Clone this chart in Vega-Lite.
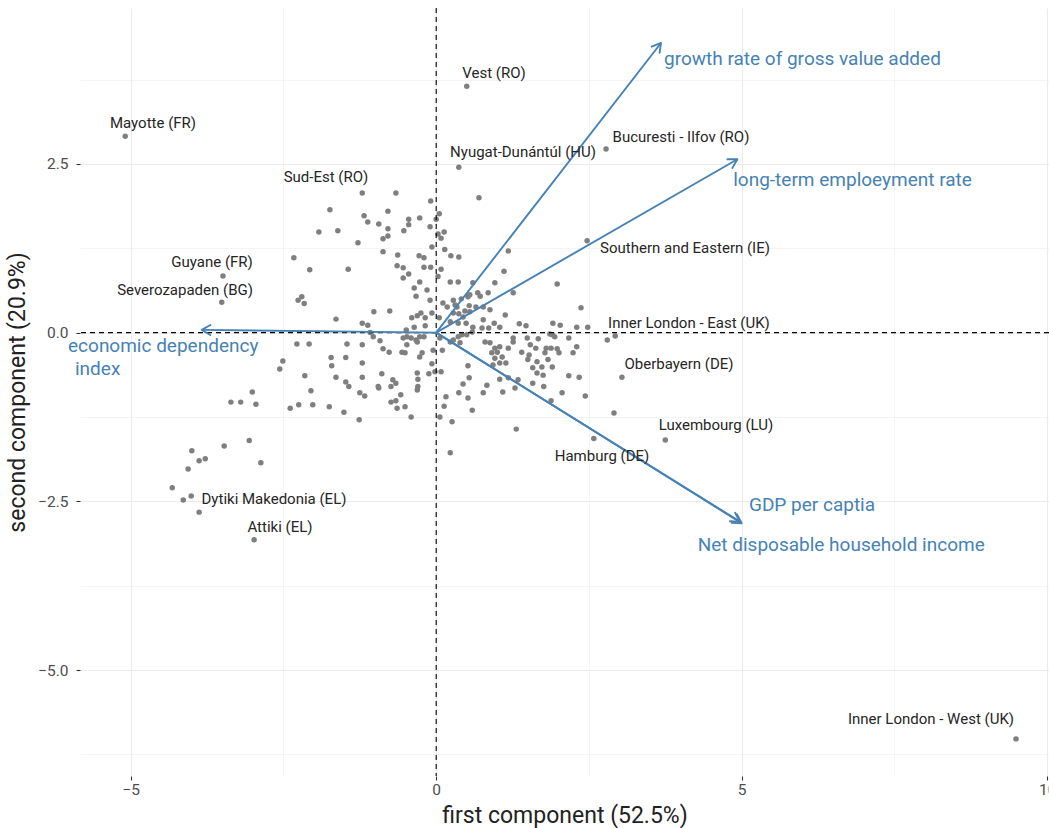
{
  "$schema": "https://vega.github.io/schema/vega-lite/v6.json",
  "width": 969,
  "height": 768,
  "autosize": {"type": "none"},
  "padding": {"left": 80, "top": 8, "right": 0, "bottom": 52},
  "background": "white",
  "config": {
    "view": {"stroke": null},
    "font": "Roboto",
    "axis": {
      "labelFont": "Roboto",
      "labelFontSize": 15.5,
      "labelColor": "#4D4D4D",
      "titleFont": "Roboto",
      "titleFontSize": 23,
      "titleFontWeight": "normal",
      "titleColor": "#222222",
      "domain": false,
      "tickSize": 4,
      "tickColor": "#333333",
      "tickWidth": 1.1,
      "gridColor": "#EBEBEB",
      "labelOverlap": false,
      "labelFlush": false
    }
  },
  "datasets": {
    "zero": [{"v": 0}],
    "arrows": [
      {"var": "growth", "x": 3.679, "y": 4.292},
      {"var": "employment", "x": 4.93, "y": 2.569},
      {"var": "gdp", "x": 5.0, "y": -2.824},
      {"var": "income", "x": 4.97, "y": -2.8},
      {"var": "dependency", "x": -3.838, "y": 0.04}
    ],
    "arrowlabels": [
      {"lx": 3.728, "ly": 4.05, "label": "growth rate of gross value added"},
      {"lx": 4.862, "ly": 2.262, "label": "long-term emploeyment rate"},
      {"lx": 5.119, "ly": -2.553, "label": "GDP per captia"},
      {"lx": 4.28, "ly": -3.145, "label": "Net disposable household income"},
      {"lx": -6.026, "ly": -0.197, "label": "economic dependency"},
      {"lx": -5.912, "ly": -0.538, "label": "index"}
    ],
    "points": [
      {"pc1": -5.09, "pc2": 2.91, "name": "Mayotte (FR)", "lx": -4.635, "ly": 3.107},
      {"pc1": 0.50, "pc2": 3.65, "name": "Vest (RO)", "lx": 0.946, "ly": 3.847},
      {"pc1": 2.78, "pc2": 2.72, "name": "Bucuresti - Ilfov (RO)", "lx": 4.006, "ly": 2.899},
      {"pc1": 0.37, "pc2": 2.45, "name": "Nyugat-Dunántúl (HU)", "lx": 1.421, "ly": 2.677},
      {"pc1": -1.21, "pc2": 2.07, "name": "Sud-Est (RO)", "lx": -1.804, "ly": 2.307},
      {"pc1": -3.49, "pc2": 0.84, "name": "Guyane (FR)", "lx": -3.669, "ly": 1.04},
      {"pc1": -3.51, "pc2": 0.45, "name": "Severozapaden (BG)", "lx": -4.111, "ly": 0.633},
      {"pc1": 2.47, "pc2": 1.36, "name": "Southern and Eastern (IE)", "lx": 4.072, "ly": 1.255},
      {"pc1": 2.93, "pc2": -0.05, "name": "Inner London - East (UK)", "lx": 4.137, "ly": 0.144},
      {"pc1": 3.04, "pc2": -0.66, "name": "Oberbayern (DE)", "lx": 3.974, "ly": -0.464},
      {"pc1": 3.75, "pc2": -1.59, "name": "Luxembourg (LU)", "lx": 4.579, "ly": -1.367},
      {"pc1": 2.58, "pc2": -1.57, "name": "Hamburg (DE)", "lx": 2.714, "ly": -1.827},
      {"pc1": -4.01, "pc2": -2.42, "name": "Dytiki Makedonia (EL)", "lx": -2.655, "ly": -2.464},
      {"pc1": -2.98, "pc2": -3.07, "name": "Attiki (EL)", "lx": -2.557, "ly": -2.878},
      {"pc1": 9.49, "pc2": -6.02, "name": "Inner London - West (UK)", "lx": 8.098, "ly": -5.723},
      {"pc1": -0.66, "pc2": 2.07}, {"pc1": -0.09, "pc2": 1.95}, {"pc1": -1.74, "pc2": 1.82}, {"pc1": -0.79, "pc2": 1.80},
      {"pc1": -1.18, "pc2": 1.73}, {"pc1": -1.12, "pc2": 1.64}, {"pc1": -0.94, "pc2": 1.61}, {"pc1": -0.45, "pc2": 1.68},
      {"pc1": -0.27, "pc2": 1.70}, {"pc1": -0.45, "pc2": 1.60}, {"pc1": -0.79, "pc2": 1.54}, {"pc1": -0.10, "pc2": 1.57},
      {"pc1": -0.53, "pc2": 1.51}, {"pc1": -1.92, "pc2": 1.49}, {"pc1": -1.61, "pc2": 1.51}, {"pc1": -0.79, "pc2": 1.43},
      {"pc1": -0.87, "pc2": 1.39}, {"pc1": -1.28, "pc2": 1.33}, {"pc1": -0.07, "pc2": 1.27}, {"pc1": -0.87, "pc2": 1.20},
      {"pc1": -0.63, "pc2": 1.15}, {"pc1": -0.28, "pc2": 1.14}, {"pc1": -0.20, "pc2": 1.11}, {"pc1": -2.33, "pc2": 1.11},
      {"pc1": -2.07, "pc2": 0.93}, {"pc1": -1.44, "pc2": 0.94}, {"pc1": -0.64, "pc2": 0.99}, {"pc1": -0.54, "pc2": 0.96},
      {"pc1": -0.20, "pc2": 0.97}, {"pc1": -0.09, "pc2": 0.97}, {"pc1": -0.45, "pc2": 0.87}, {"pc1": -0.54, "pc2": 0.81},
      {"pc1": -0.27, "pc2": 0.75}, {"pc1": -0.36, "pc2": 0.66}, {"pc1": -0.33, "pc2": 0.54}, {"pc1": -2.26, "pc2": 0.48},
      {"pc1": -2.16, "pc2": 0.43}, {"pc1": -2.20, "pc2": 0.53}, {"pc1": -1.02, "pc2": 0.31}, {"pc1": -0.76, "pc2": 0.32},
      {"pc1": -1.64, "pc2": 0.20}, {"pc1": -1.21, "pc2": 0.14}, {"pc1": -1.12, "pc2": 0.11}, {"pc1": -0.40, "pc2": 0.22},
      {"pc1": -0.25, "pc2": 0.29}, {"pc1": -0.31, "pc2": 0.25}, {"pc1": -0.18, "pc2": 0.22}, {"pc1": -0.07, "pc2": 0.29},
      {"pc1": -0.49, "pc2": 0.04}, {"pc1": -0.36, "pc2": 0.08}, {"pc1": -0.10, "pc2": 0.48}, {"pc1": -0.15, "pc2": 0.63},
      {"pc1": -1.08, "pc2": 0.00}, {"pc1": -0.18, "pc2": 0.10},
      {"pc1": 0.70, "pc2": 2.00}, {"pc1": 0.05, "pc2": 1.76}, {"pc1": 0.00, "pc2": 1.68}, {"pc1": 0.13, "pc2": 1.49},
      {"pc1": 0.03, "pc2": 1.46}, {"pc1": 0.08, "pc2": 1.40}, {"pc1": 0.14, "pc2": 1.23}, {"pc1": 0.24, "pc2": 1.14},
      {"pc1": 0.37, "pc2": 1.12}, {"pc1": 1.18, "pc2": 1.21}, {"pc1": 0.08, "pc2": 0.94}, {"pc1": 1.11, "pc2": 0.91},
      {"pc1": 0.03, "pc2": 0.83}, {"pc1": 0.23, "pc2": 0.75}, {"pc1": 0.36, "pc2": 0.75}, {"pc1": 0.60, "pc2": 0.74},
      {"pc1": 0.96, "pc2": 0.74}, {"pc1": 1.98, "pc2": 0.72}, {"pc1": 0.68, "pc2": 0.59}, {"pc1": 0.72, "pc2": 0.54},
      {"pc1": 0.85, "pc2": 0.59}, {"pc1": 0.52, "pc2": 0.53}, {"pc1": 1.26, "pc2": 0.59}, {"pc1": 0.28, "pc2": 0.48},
      {"pc1": 0.41, "pc2": 0.50}, {"pc1": 0.11, "pc2": 0.44}, {"pc1": 0.18, "pc2": 0.38}, {"pc1": 0.31, "pc2": 0.41},
      {"pc1": 0.54, "pc2": 0.40}, {"pc1": 0.65, "pc2": 0.38}, {"pc1": 0.77, "pc2": 0.38}, {"pc1": 0.88, "pc2": 0.34},
      {"pc1": 0.37, "pc2": 0.28}, {"pc1": 0.44, "pc2": 0.23}, {"pc1": 0.55, "pc2": 0.31}, {"pc1": 2.37, "pc2": 0.37},
      {"pc1": 0.05, "pc2": 0.22}, {"pc1": 1.13, "pc2": 0.26}, {"pc1": 0.23, "pc2": 0.16}, {"pc1": 0.49, "pc2": 0.14},
      {"pc1": 0.60, "pc2": 0.08}, {"pc1": 0.75, "pc2": 0.07}, {"pc1": 0.95, "pc2": 0.14}, {"pc1": 1.04, "pc2": 0.08},
      {"pc1": 1.36, "pc2": 0.13}, {"pc1": 1.47, "pc2": 0.10}, {"pc1": 1.91, "pc2": 0.14}, {"pc1": 2.03, "pc2": 0.11},
      {"pc1": 2.30, "pc2": 0.08}, {"pc1": 2.48, "pc2": 0.08}, {"pc1": 0.86, "pc2": 0.07}, {"pc1": 0.55, "pc2": 0.56},
      {"pc1": 0.34, "pc2": 0.38}, {"pc1": 0.47, "pc2": 0.32}, {"pc1": 0.28, "pc2": 0.29}, {"pc1": 0.36, "pc2": 0.14},
      {"pc1": 0.77, "pc2": 0.19},
      {"pc1": -2.28, "pc2": -0.17}, {"pc1": -2.08, "pc2": -0.17}, {"pc1": -1.46, "pc2": -0.17}, {"pc1": -1.21, "pc2": -0.18},
      {"pc1": -1.03, "pc2": -0.06}, {"pc1": -0.92, "pc2": -0.12}, {"pc1": -0.87, "pc2": -0.24}, {"pc1": -0.77, "pc2": -0.29},
      {"pc1": -0.56, "pc2": -0.29}, {"pc1": -0.51, "pc2": -0.30}, {"pc1": -0.48, "pc2": -0.18}, {"pc1": -0.33, "pc2": -0.11},
      {"pc1": -0.20, "pc2": -0.06}, {"pc1": -0.54, "pc2": -0.08}, {"pc1": -0.27, "pc2": -0.36}, {"pc1": -2.51, "pc2": -0.42},
      {"pc1": -2.56, "pc2": -0.54}, {"pc1": -1.72, "pc2": -0.37}, {"pc1": -1.71, "pc2": -0.49}, {"pc1": -1.48, "pc2": -0.37},
      {"pc1": -1.21, "pc2": -0.45}, {"pc1": -2.15, "pc2": -0.64}, {"pc1": -1.64, "pc2": -0.66}, {"pc1": -1.21, "pc2": -0.66},
      {"pc1": -0.89, "pc2": -0.61}, {"pc1": -0.07, "pc2": -0.46}, {"pc1": -0.12, "pc2": -0.61}, {"pc1": -0.30, "pc2": -0.69},
      {"pc1": -1.48, "pc2": -0.73}, {"pc1": -1.43, "pc2": -0.80}, {"pc1": -0.74, "pc2": -0.80}, {"pc1": -0.66, "pc2": -0.75},
      {"pc1": -0.94, "pc2": -0.82}, {"pc1": -0.31, "pc2": -0.85}, {"pc1": -2.05, "pc2": -0.86}, {"pc1": -3.01, "pc2": -0.88},
      {"pc1": -1.25, "pc2": -0.89}, {"pc1": -1.17, "pc2": -0.94}, {"pc1": -0.58, "pc2": -0.92}, {"pc1": -3.36, "pc2": -1.03},
      {"pc1": -3.20, "pc2": -1.03}, {"pc1": -2.95, "pc2": -1.06}, {"pc1": -2.39, "pc2": -1.12}, {"pc1": -2.25, "pc2": -1.07},
      {"pc1": -2.02, "pc2": -1.07}, {"pc1": -1.75, "pc2": -1.10}, {"pc1": -0.74, "pc2": -1.03}, {"pc1": -0.66, "pc2": -1.01},
      {"pc1": -0.64, "pc2": -1.12}, {"pc1": -0.51, "pc2": -1.10}, {"pc1": -1.51, "pc2": -1.18}, {"pc1": -0.41, "pc2": -1.25},
      {"pc1": -1.26, "pc2": -1.29}, {"pc1": -3.06, "pc2": -1.60}, {"pc1": -3.47, "pc2": -1.68}, {"pc1": -4.00, "pc2": -1.75},
      {"pc1": -2.87, "pc2": -1.93}, {"pc1": -3.78, "pc2": -1.87}, {"pc1": -3.88, "pc2": -1.90}, {"pc1": -4.06, "pc2": -2.02},
      {"pc1": -4.32, "pc2": -2.30}, {"pc1": -4.14, "pc2": -2.48}, {"pc1": -3.88, "pc2": -2.66},
      {"pc1": -0.48, "pc2": -0.06}, {"pc1": -0.41, "pc2": -0.08}, {"pc1": -0.27, "pc2": -0.06}, {"pc1": -0.31, "pc2": -0.14},
      {"pc1": -0.05, "pc2": -0.26}, {"pc1": -0.23, "pc2": -0.30}, {"pc1": -0.02, "pc2": -0.58}, {"pc1": -0.31, "pc2": -0.60},
      {"pc1": -0.71, "pc2": -0.70}, {"pc1": -0.95, "pc2": -0.80}, {"pc1": -0.30, "pc2": -0.80},
      {"pc1": 0.06, "pc2": -0.08}, {"pc1": 0.28, "pc2": -0.11}, {"pc1": 0.42, "pc2": -0.03}, {"pc1": 0.59, "pc2": 0.01},
      {"pc1": 0.80, "pc2": -0.14}, {"pc1": 0.88, "pc2": -0.15}, {"pc1": 0.96, "pc2": -0.23}, {"pc1": 1.00, "pc2": -0.29},
      {"pc1": 1.04, "pc2": -0.21}, {"pc1": 0.91, "pc2": -0.30}, {"pc1": 0.96, "pc2": -0.38}, {"pc1": 1.08, "pc2": -0.36},
      {"pc1": 1.18, "pc2": -0.23}, {"pc1": 1.26, "pc2": -0.14}, {"pc1": 1.26, "pc2": -0.08}, {"pc1": 1.40, "pc2": -0.29},
      {"pc1": 1.49, "pc2": -0.08}, {"pc1": 1.54, "pc2": -0.18}, {"pc1": 1.67, "pc2": -0.09}, {"pc1": 1.63, "pc2": -0.23},
      {"pc1": 1.52, "pc2": -0.33}, {"pc1": 1.50, "pc2": -0.40}, {"pc1": 1.65, "pc2": -0.43}, {"pc1": 1.78, "pc2": -0.30},
      {"pc1": 1.80, "pc2": -0.23}, {"pc1": 1.88, "pc2": -0.23}, {"pc1": 1.98, "pc2": -0.24}, {"pc1": 2.01, "pc2": -0.30},
      {"pc1": 1.83, "pc2": -0.40}, {"pc1": 1.90, "pc2": -0.51}, {"pc1": 1.73, "pc2": -0.51}, {"pc1": 1.58, "pc2": -0.52},
      {"pc1": 1.65, "pc2": -0.60}, {"pc1": 1.75, "pc2": -0.63}, {"pc1": 1.90, "pc2": -0.03}, {"pc1": 1.94, "pc2": -0.06},
      {"pc1": 2.17, "pc2": -0.08}, {"pc1": 2.30, "pc2": -0.21}, {"pc1": 2.24, "pc2": -0.30}, {"pc1": 1.04, "pc2": -0.45},
      {"pc1": 1.14, "pc2": -0.45}, {"pc1": 0.93, "pc2": -0.48}, {"pc1": 0.52, "pc2": -0.49}, {"pc1": 0.08, "pc2": -0.58},
      {"pc1": 0.54, "pc2": -0.67}, {"pc1": 1.04, "pc2": -0.69}, {"pc1": 1.18, "pc2": -0.67}, {"pc1": 1.34, "pc2": -0.70},
      {"pc1": 1.29, "pc2": -0.82}, {"pc1": 1.09, "pc2": -0.88}, {"pc1": 1.58, "pc2": -0.75}, {"pc1": 1.76, "pc2": -0.80},
      {"pc1": 2.17, "pc2": -0.64}, {"pc1": 2.34, "pc2": -0.66}, {"pc1": 0.44, "pc2": -0.76}, {"pc1": 0.37, "pc2": -0.89},
      {"pc1": 0.52, "pc2": -0.97}, {"pc1": 0.77, "pc2": -0.89}, {"pc1": 0.16, "pc2": -0.95}, {"pc1": 0.13, "pc2": -1.09},
      {"pc1": 0.59, "pc2": -1.15}, {"pc1": 2.06, "pc2": -0.89}, {"pc1": 2.44, "pc2": -0.94}, {"pc1": 1.88, "pc2": -1.01},
      {"pc1": 0.06, "pc2": -1.25}, {"pc1": 0.26, "pc2": -1.32}, {"pc1": 2.91, "pc2": -1.19}, {"pc1": 1.31, "pc2": -1.43},
      {"pc1": 0.23, "pc2": -1.78}, {"pc1": 0.23, "pc2": -0.14}, {"pc1": 0.36, "pc2": -0.06}, {"pc1": 0.50, "pc2": -0.03},
      {"pc1": 0.39, "pc2": -0.15}, {"pc1": 0.10, "pc2": -0.26}, {"pc1": 0.83, "pc2": -0.78}, {"pc1": 1.86, "pc2": -0.02},
      {"pc1": 2.80, "pc2": -0.11}
    ]
  },
  "layer": [
    {
      "data": {"name": "points"},
      "mark": {"type": "point", "filled": true, "shape": "circle", "size": 30, "color": "#7F7F7F", "opacity": 1},
      "encoding": {
        "x": {
          "field": "pc1", "type": "quantitative",
          "scale": {"domain": [-5.83, 10.03], "nice": false, "zero": false},
          "axis": {
            "title": "first component (52.5%)",
            "values": [-5, -2.5, 0, 2.5, 5, 7.5, 10],
            "labelExpr": "datum.value % 5 == 0 ? format(datum.value, 'd') : ''",
            "labelPadding": 2,
            "titlePadding": 7,
            "tickOpacity": {"condition": {"test": "datum.value % 5 == 0", "value": 1}, "value": 0},
            "gridWidth": {"condition": {"test": "datum.value % 5 == 0", "value": 1.1}, "value": 0.55}
          }
        },
        "y": {
          "field": "pc2", "type": "quantitative",
          "scale": {"domain": [-6.57, 4.81], "nice": false, "zero": false},
          "axis": {
            "title": "second component (20.9%)",
            "values": [-6.25, -5, -3.75, -2.5, -1.25, 0, 1.25, 2.5, 3.75],
            "labelExpr": "abs(datum.value) % 2.5 == 0 ? format(datum.value, '.1f') : ''",
            "labelPadding": 8,
            "titlePadding": 8,
            "tickOpacity": {"condition": {"test": "abs(datum.value) % 2.5 == 0", "value": 1}, "value": 0},
            "gridWidth": {"condition": {"test": "abs(datum.value) % 2.5 == 0", "value": 1.1}, "value": 0.55}
          }
        }
      }
    },
    {
      "data": {"name": "zero"},
      "mark": {"type": "rule", "color": "black", "strokeDash": [5, 4], "strokeWidth": 1.1},
      "encoding": {"x": {"field": "v", "type": "quantitative"}}
    },
    {
      "data": {"name": "zero"},
      "mark": {"type": "rule", "color": "black", "strokeDash": [5, 4], "strokeWidth": 1.1},
      "encoding": {"y": {"field": "v", "type": "quantitative"}}
    },
    {
      "data": {"name": "arrows"},
      "mark": {"type": "rule", "color": "#4682B4", "strokeWidth": 1.9},
      "encoding": {
        "x": {"field": "x", "type": "quantitative"},
        "y": {"field": "y", "type": "quantitative"},
        "x2": {"datum": 0},
        "y2": {"datum": 0}
      }
    },
    {
      "data": {"name": "arrows"},
      "mark": {"type": "point", "filled": false, "size": 400, "strokeWidth": 1.9, "color": "#4682B4", "opacity": 1, "strokeCap": "round", "strokeJoin": "round"},
      "encoding": {
        "x": {"field": "x", "type": "quantitative"},
        "y": {"field": "y", "type": "quantitative"},
        "shape": {
          "field": "var", "type": "nominal", "legend": null,
          "scale": {
            "domain": ["growth", "employment", "gdp", "income", "dependency"],
            "range": [
              "M-0.926,0.378L0,0L-0.136,0.991",
              "M-1,0L0,0L-0.501,0.865",
              "M-0.47,-0.883L0,0L-0.999,-0.034",
              "M-0.47,-0.883L0,0L-0.999,-0.034",
              "M0.86,0.51L0,0L0.872,-0.49"
            ]
          }
        }
      }
    },
    {
      "data": {"name": "arrowlabels"},
      "mark": {"type": "text", "align": "left", "baseline": "middle", "font": "Roboto", "fontSize": 19, "color": "#4682B4"},
      "encoding": {
        "x": {"field": "lx", "type": "quantitative"},
        "y": {"field": "ly", "type": "quantitative"},
        "text": {"field": "label"}
      }
    },
    {
      "data": {"name": "points"},
      "transform": [{"filter": "datum.name != null"}],
      "mark": {"type": "text", "align": "center", "baseline": "middle", "font": "Roboto", "fontSize": 15, "color": "#262626"},
      "encoding": {
        "x": {"field": "lx", "type": "quantitative"},
        "y": {"field": "ly", "type": "quantitative"},
        "text": {"field": "name"}
      }
    }
  ]
}
